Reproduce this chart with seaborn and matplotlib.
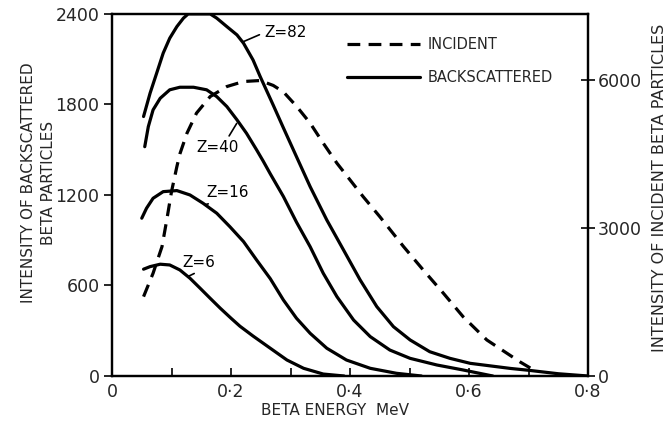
import numpy as np
import pandas as pd
import seaborn as sns
import matplotlib
matplotlib.use('Agg')
import matplotlib.pyplot as plt
from matplotlib.lines import Line2D
from matplotlib.ticker import MultipleLocator, FixedLocator, FuncFormatter

## Data (energy in MeV)
# backscattered, left axis
z6_energy = [0.053, 0.064, 0.081, 0.097, 0.114, 0.131, 0.148, 0.165, 0.182, 0.20, 0.215,
             0.237, 0.266, 0.294, 0.322, 0.355, 0.39]
z6_counts = [708, 725, 741, 736, 703, 648, 582, 515, 449, 383, 330,
             265, 184, 106, 51, 13, 0]

z16_energy = [0.05, 0.058, 0.069, 0.086, 0.109, 0.131, 0.153, 0.176, 0.198, 0.221, 0.243,
              0.266, 0.288, 0.31, 0.333, 0.361, 0.394, 0.434, 0.478, 0.52]
z16_counts = [1046, 1112, 1178, 1222, 1229, 1200, 1145, 1079, 990, 891, 769,
              645, 504, 383, 283, 184, 106, 51, 18, 0]

z40_energy = [0.055, 0.061, 0.069, 0.081, 0.097, 0.114, 0.137, 0.159, 0.176, 0.193, 0.21,
              0.226, 0.243, 0.254, 0.266, 0.288, 0.31, 0.333, 0.355, 0.378, 0.406, 0.434,
              0.467, 0.501, 0.546, 0.59, 0.64]
z40_counts = [1520, 1653, 1764, 1841, 1897, 1914, 1914, 1897, 1852, 1786, 1698,
              1609, 1499, 1425, 1340, 1190, 1020, 857, 681, 526, 371, 261,
              172, 117, 73, 40, 0]

z82_energy = [0.053, 0.064, 0.075, 0.086, 0.097, 0.109, 0.12, 0.128, 0.145, 0.165, 0.176,
              0.193, 0.21, 0.221, 0.237, 0.249, 0.26, 0.271, 0.288, 0.31, 0.333, 0.361,
              0.389, 0.417, 0.445, 0.473, 0.501, 0.534, 0.568, 0.602, 0.63, 0.67, 0.70,
              0.75, 0.80]
z82_counts = [1720, 1875, 2007, 2140, 2239, 2316, 2372, 2400, 2400, 2400, 2372,
              2316, 2261, 2206, 2095, 1985, 1890, 1795, 1645, 1454, 1255, 1034,
              836, 637, 460, 327, 239, 161, 117, 84, 70, 50, 38,
              15, 0]

# incident, right axis
inc_energy = [0.053, 0.069, 0.084, 0.092, 0.10, 0.109, 0.114, 0.126, 0.142, 0.165, 0.193,
              0.221, 0.249, 0.271, 0.288, 0.31, 0.333, 0.355, 0.378, 0.40, 0.422, 0.45,
              0.49, 0.523, 0.557, 0.59, 0.63, 0.686, 0.703]
inc_counts = [1609, 2083, 2623, 3164, 3738, 4246, 4500, 4923, 5329, 5665, 5868,
              5970, 5990, 5890, 5760, 5470, 5126, 4720, 4314, 3976, 3637, 3231,
              2623, 2150, 1677, 1203, 730, 284, 162]

z_names = ['Z=6', 'Z=16', 'Z=40', 'Z=82']
back = pd.concat([
    pd.DataFrame({'energy': e, 'counts': c, 'Z': n})
    for e, c, n in zip([z6_energy, z16_energy, z40_energy, z82_energy],
                       [z6_counts, z16_counts, z40_counts, z82_counts], z_names)
])

sns.set_style('ticks')
plt.rcParams['font.family'] = ['DejaVu Sans']

fig = plt.figure(figsize=(6.72, 4.22), dpi=100)
ax = fig.add_axes([0.1667, 0.109, 0.7083, 0.858])

sns.lineplot(data=back, x='energy', y='counts', units='Z', estimator=None, sort=False,
             color='black', lw=2.3, legend=False, ax=ax)
for ln in ax.lines:
    ln.set_solid_joinstyle('round')

ax2 = ax.twinx()
sns.lineplot(x=inc_energy, y=inc_counts, sort=False, color='black', lw=2.3, ax=ax2)
ax2.lines[0].set_linestyle((0, (4, 2.6)))

ax.set_xlim(0, 0.8)
ax.set_ylim(0, 2400)
ax2.set_ylim(0, 7340)

for a in (ax, ax2):
    for s in a.spines.values():
        s.set_linewidth(1.6)
        s.set_color('black')

# bottom ticks: inward every 0.1, labels every 0.2
ax.xaxis.set_major_locator(MultipleLocator(0.2))
ax.xaxis.set_minor_locator(MultipleLocator(0.1))
ax.xaxis.set_major_formatter(FuncFormatter(lambda v, p: '0' if abs(v) < 1e-9 else f'{v:.1f}'.replace('.', '·')))
ax.tick_params(axis='x', which='both', direction='in', length=6, width=1.4, labelsize=12.5, pad=5)
ax.yaxis.set_major_locator(MultipleLocator(600))
ax.tick_params(axis='y', which='major', direction='out', length=6, width=1.4, labelsize=12.5, pad=3, right=False)

ax2.yaxis.set_major_locator(FixedLocator([0, 3000, 6000]))
ax2.tick_params(axis='y', direction='inout', length=10, width=1.4, labelsize=12.5, pad=2)

ax.set_xlabel('BETA ENERGY  MeV', fontsize=11)
ax.xaxis.set_label_coords(0.468, -0.074)
ax.set_ylabel('INTENSITY OF BACKSCATTERED\nBETA PARTICLES', fontsize=11, linespacing=1.4)
ax.yaxis.set_label_coords(-0.118, 0.533)
ax2.set_ylabel('INTENSITY OF INCIDENT BETA PARTICLES', fontsize=11.5)
ax2.yaxis.set_label_coords(1.135, 0.52)

# curve labels with leader lines
lab = dict(fontsize=11, color='black', va='center', ha='center')
ax.annotate('Z=82', xy=(0.22, 2215), xytext=(0.291, 2275), **lab,
            arrowprops=dict(arrowstyle='-', lw=1.2, color='black', relpos=(0, 0.5), shrinkA=1, shrinkB=0))
ax.annotate('Z=40', xy=(0.212, 1690), xytext=(0.178, 1512), **lab,
            arrowprops=dict(arrowstyle='-', lw=1.2, color='black', relpos=(0.7, 1), shrinkA=1, shrinkB=2))
ax.annotate('Z=16', xy=(0.156, 1135), xytext=(0.195, 1215), **lab,
            arrowprops=dict(arrowstyle='-', lw=1.2, color='black', relpos=(0.35, 0), shrinkA=1, shrinkB=0))
ax.annotate('Z=6', xy=(0.128, 660), xytext=(0.146, 755), **lab,
            arrowprops=dict(arrowstyle='-', lw=1.2, color='black', relpos=(0.6, 0), shrinkA=1, shrinkB=0))

handles = [Line2D([], [], color='black', lw=2.3, linestyle=(0, (4, 2.6))),
           Line2D([], [], color='black', lw=2.3)]
ax2.legend(handles, ['INCIDENT', 'BACKSCATTERED'], loc='upper left', bbox_to_anchor=(0.494, 0.935),
           frameon=False, fontsize=10.5, handlelength=5.0, handletextpad=0.5, labelspacing=1.2,
           borderpad=0, borderaxespad=0)

fig.savefig('out.png', dpi=100, facecolor='white')
